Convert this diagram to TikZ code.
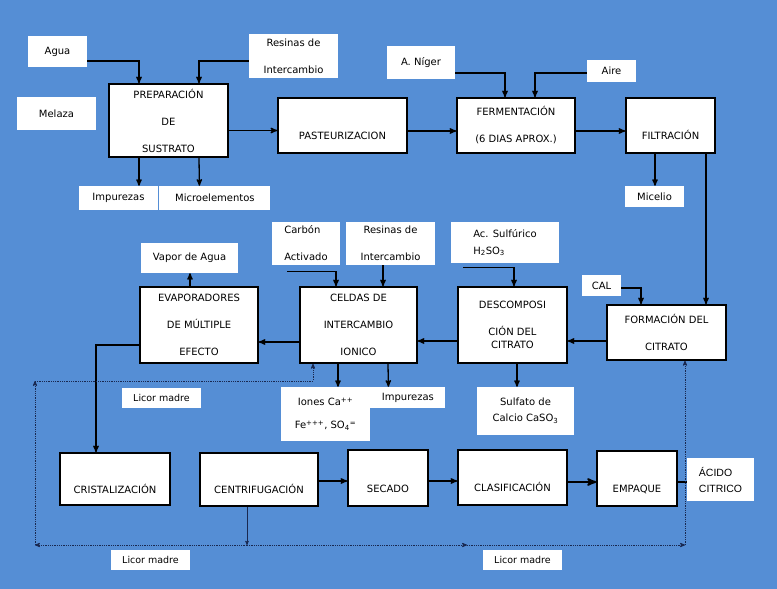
\documentclass[tikz,border=0pt]{standalone}
\usepackage{fontspec}
\setmainfont{DejaVu Sans}
\newfontfamily\arialfont{Liberation Sans}
\usetikzlibrary{arrows,positioning}
\definecolor{fondo}{RGB}{85,142,213}
\definecolor{punteado}{RGB}{25,40,80}

\begin{document}
\begin{tikzpicture}[x=1pt,y=-1pt,>=stealth',
      caja/.style={rectangle,draw,line width=1.5pt,fill=white,align=center,
        inner sep=0pt,font=\fontsize{10}{27}\selectfont},
      etiq/.style={rectangle,fill=white,align=center,inner sep=0pt,
        font=\fontsize{10}{12}\selectfont},
      chica/.style={font=\fontsize{9.5}{12}\selectfont},
      bajo/.style={text height=28pt,text depth=0pt},
      flecha/.style={->,line width=1.3pt},
      retorno/.style={->,densely dotted,line width=0.8pt,color=punteado}]
      \useasboundingbox (0,0) rectangle (777,589);
      \fill[fondo] (0,0) rectangle (777,589);

      \node[etiq,minimum width=59pt,minimum height=31pt] (agua) at (57.5,51.5) {Agua};
      \node[etiq,minimum width=89pt,minimum height=44pt] (res1) at (293.5,56)
      {Resinas de\\[15pt]Intercambio}; \node[etiq,minimum width=79pt,minimum
      height=33pt] (melaza) at (56.5,113.5) {Melaza};
      \node[caja,minimum width=119pt,minimum height=73pt] (prep) at (168.5,120.5)
      {PREPARACIÓN\\DE\\SUSTRATO}; \node[caja,bajo,minimum width=129pt,minimum
      height=55pt] (past) at (342.5,125.5) {PASTEURIZACION};
      \node[caja,minimum width=118pt,minimum height=55pt] (ferm) at (516,125.5)
      {FERMENTACIÓN\\(6 DIAS APROX.)}; \node[caja,bajo,minimum width=89pt,minimum
      height=55pt] (filt) at (670.5,125.5) {FILTRACIÓN};
      \node[etiq,minimum width=68pt,minimum height=33pt] (niger) at (421,62.5) {A. Níger};
      \node[etiq,minimum width=49pt,minimum height=22pt] (aire) at (611.5,71) {Aire};
      \node[etiq,minimum width=79pt,minimum height=24pt] (imp1) at (118.5,198) {Impurezas};
      \node[etiq,minimum width=111pt,minimum height=24pt,right=1pt of imp1] (micro)
      {Microelementos}; \node[etiq,minimum width=59pt,minimum height=21pt] (mic)
      at (654.5,196.5) {Micelio};

      \node[etiq,minimum width=97pt,minimum height=30pt] (vapor) at (189.5,258)
      {Vapor de Agua}; \node[etiq,align=left,minimum width=68pt,minimum height=43pt]
      (carbon) at (306,243.5) {Carbón\\[15pt]Activado};
      \node[etiq,minimum width=89pt,minimum height=43pt] (res2) at (390.5,243.5)
      {Resinas de\\[15pt]Intercambio}; \node[etiq,align=left,minimum width=108pt,
      minimum height=41pt] (acsulf) at (505,242.5)
      {Ac. Sulfúrico\\[5pt]H\textsubscript{2}SO\textsubscript{3}};
      \node[etiq,minimum width=39pt,minimum height=21pt] (cal) at (601.5,285.5) {CAL};
      \node[caja,minimum width=118pt,minimum height=76pt] (evap) at (199,325)
      {EVAPORADORES\\DE MÚLTIPLE\\EFECTO}; \node[caja,minimum width=117pt,minimum
      height=76pt] (celdas) at (358.5,325) {CELDAS DE\\INTERCAMBIO\\IONICO};
      \node[caja,minimum width=109pt,minimum height=76pt] (desc) at (512.5,325)
      {DESCOMPOSI\\CIÓN DEL\\[-14pt]CITRATO}; \node[caja,minimum width=119pt,minimum
      height=55pt] (form) at (666.5,332.5) {FORMACIÓN DEL\\CITRATO};
      \node[etiq,chica,minimum width=79pt,minimum height=20pt] (licor1) at (161.5,398)
      {Licor madre}; \node[etiq,minimum width=89pt,minimum height=54pt] (iones) at
      (325.5,414) {Iones Ca\textsuperscript{++}\\[11pt]Fe\textsuperscript{+++},
      SO\textsubscript{4}\textsuperscript{=}};
      \node[etiq,anchor=north west,minimum width=75pt,minimum height=21pt] (imp2) at
      (iones.north east) {Impurezas}; \node[etiq,minimum width=97pt,minimum
      height=48pt] (sulf) at (525.5,411) {Sulfato de\\[4pt]Calcio CaSO\textsubscript{3}};

      \node[caja,bajo,minimum width=110pt,minimum height=52pt] (crist) at (115,479)
      {CRISTALIZACIÓN}; \node[caja,bajo,minimum width=118pt,minimum height=53pt]
      (centr) at (259,479.5) {CENTRIFUGACIÓN};
      \node[caja,bajo,minimum width=80pt,minimum height=56pt] (secado) at (388,478)
      {SECADO}; \node[caja,bajo,minimum width=109pt,minimum height=55pt] (clasif)
      at (512.5,477.5) {CLASIFICACIÓN}; \node[caja,bajo,minimum width=80pt,minimum
      height=55pt] (empaque) at (637,478.5) {EMPAQUE};
      \node[etiq,align=left,minimum width=67pt,minimum height=43pt,
      font=\arialfont\fontsize{10.5}{13}\selectfont] (acido) at (720.5,479.5)
      {ÁCIDO\\[3pt]CITRICO}; \node[etiq,chica,minimum width=79pt,minimum height=20pt]
      (licor2) at (150.5,560) {Licor madre}; \node[etiq,chica,minimum width=79pt,
      minimum height=20pt] (licor3) at (522.5,560) {Licor madre};

      \draw[flecha] ([yshift=-9.5pt]agua.east) -| ([xshift=-29.5pt]prep.north);
      \draw[flecha] ([yshift=-5pt]res1.west) -| ([xshift=30.5pt]prep.north);
      \draw[flecha] ([yshift=-10pt]prep.east) -- ([yshift=-5pt]past.west);
      \draw[flecha] ([xshift=-29.5pt]prep.south) -- ([xshift=20.5pt]imp1.north);
      \draw[flecha] ([xshift=30.5pt]prep.south) -- ([xshift=-15.5pt]micro.north);
      \draw[flecha] ([yshift=-5.5pt]past.east) -- ([yshift=-5.5pt]ferm.west);
      \draw[flecha] ([yshift=-10.5pt]niger.east) -| ([xshift=-11pt]ferm.north);
      \draw[flecha] ([yshift=-2pt]aire.west) -| ([xshift=19pt]ferm.north);
      \draw[flecha] ([yshift=-5.5pt]ferm.east) -- ([yshift=-5.5pt]filt.west);
      \draw[flecha] ([xshift=-15.5pt]filt.south) -- ([xshift=0.5pt]mic.north);
      \draw[flecha] ([xshift=35.5pt]filt.south) -- ([xshift=39.5pt]form.north);

      \draw[flecha] ([xshift=-9pt]evap.north) -- ([xshift=0.5pt]vapor.south);
      \draw[flecha] ([xshift=-19pt,yshift=-6pt]carbon.south) -| ([xshift=-22.5pt]celdas.north);
      \draw[flecha] ([xshift=-7.5pt]res2.south) -- ([xshift=24.5pt]celdas.north);
      \draw[flecha] ([xshift=-42pt,yshift=-4pt]acsulf.south) -| ([xshift=1.5pt]desc.north);
      \draw[flecha] ([yshift=-2.5pt]cal.east) -| ([xshift=-25.5pt]form.north);
      \draw[flecha] ([yshift=-8.5pt]form.west) -- ([yshift=-16pt]desc.east);
      \draw[flecha] ([yshift=-16pt]desc.west) -- ([yshift=-16pt]celdas.east);
      \draw[flecha] ([yshift=-17pt]celdas.west) -- ([yshift=-17pt]evap.east);
      \draw[flecha] ([yshift=-20pt]evap.west) -| ([xshift=-19pt]crist.north);
      \draw[flecha] ([xshift=-20.5pt]celdas.south) -- ([xshift=12.5pt]iones.north);
      \draw[flecha] ([xshift=29.5pt]celdas.south) -- ([xshift=-19.5pt]imp2.north);
      \draw[flecha] ([xshift=4.5pt]desc.south) -- ([xshift=-8.5pt]sulf.north);

      \draw[flecha] ([yshift=-1.5pt]centr.east) -- ([yshift=-3pt]secado.west);
      \draw[flecha] ([yshift=-3pt]secado.east) -- ([yshift=-3.5pt]clasif.west);
      \draw[flecha,line width=2pt] ([yshift=-4.5pt]clasif.east) -- ([yshift=-3.5pt]empaque.west);
      \draw[line width=2pt] ([yshift=-3.5pt]empaque.east) -- ([yshift=-2.5pt]acido.west);

      \coordinate (c1) at (247,545); \coordinate (c2) at (35,545);
      \coordinate (c3) at (35,381); \coordinate (c4) at (467,545);
      \coordinate (c5) at (685,545);
      \draw[->,line width=0.6pt,color=punteado] ([xshift=-12pt]centr.south) -- (c1);
      \draw[retorno] (c1) -- (c2); \draw[retorno] (c2) -- (c3);
      \draw[retorno] (c3) -| ([xshift=-45.5pt]celdas.south);
      \draw[retorno] (c1) -- (c4); \draw[retorno] (c4) -- (c5);
      \draw[retorno] (c5) -- ([xshift=18.5pt]form.south);
    \end{tikzpicture}
\end{document}
